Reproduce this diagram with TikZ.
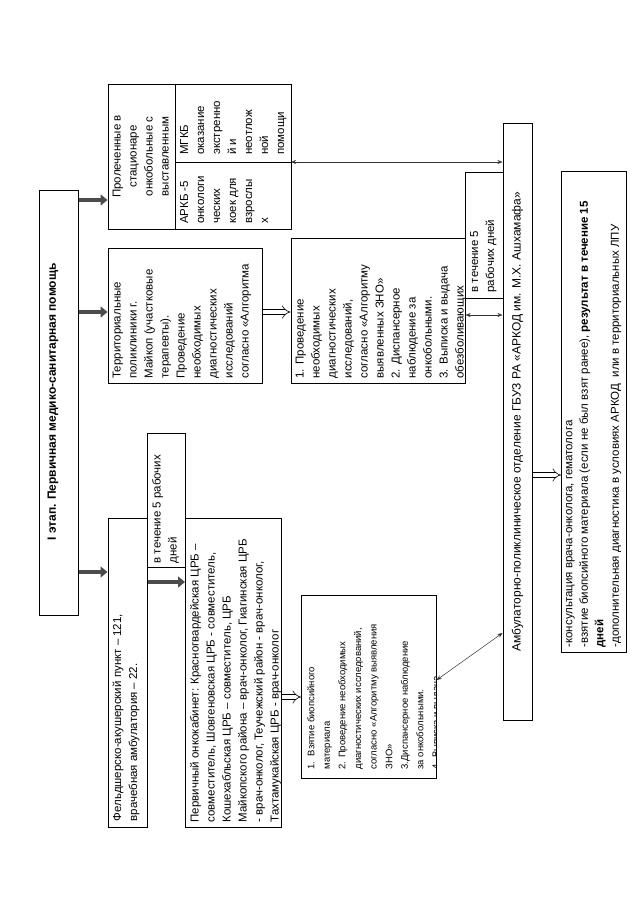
\documentclass[tikz,border=0pt]{standalone}
\usepackage{fontspec}
\setmainfont{Liberation Sans}
\usetikzlibrary{arrows.meta}
\newcommand\mkbox[5]{\node[box, minimum width=#4pt, minimum height=#5pt] (#1) at (#2,#3) {};}
\tikzset{
  box/.style={draw, inner sep=0pt, anchor=north west, line width=0.6pt},
  tx/.style={rotate=90, anchor=north west, inner sep=0pt, align=left, font=\fontsize{11.5}{16}\selectfont},
  txs/.style={rotate=90, anchor=north west, inner sep=0pt, align=left, font=\fontsize{9.5}{15.6}\selectfont},
  thk/.style={line width=4.5pt, draw=black!70, -{Triangle[length=7pt,width=11pt]}},
  hol/.style={double, double distance=4pt, line width=0.6pt, -{Implies[length=6pt,width=12pt]}},
  dbl/.style={line width=0.5pt, draw=black!80, {Stealth[length=5pt,width=4pt]}-{Stealth[length=5pt,width=4pt]}},
}
\begin{document}
\begin{tikzpicture}[x=1pt,y=-1pt]
\fill[white] (0,0) rectangle (640,905);
\useasboundingbox (0,0) rectangle (640,905);
% boxes
\mkbox{ttl}{39}{190}{39}{425}
\mkbox{b2}{107.5}{84}{183}{145}
\mkbox{b4}{107.5}{248}{154.5}{135}
\mkbox{b5}{290.5}{238}{174.5}{145}
\mkbox{b6}{465}{172}{37.5}{126}
\mkbox{amb}{502.5}{123}{29.5}{597}
\mkbox{kons}{561}{171}{65}{481}
\mkbox{feld}{107.5}{518}{39.5}{309}
\mkbox{b7}{147}{433}{38}{134}
\mkbox{perv}{185}{518}{96}{309}
\mkbox{vz}{301}{595}{135}{183}
% table lines in b2
\draw[line width=0.6pt] (175.6,84) -- (175.6,229);
\draw[line width=0.6pt] (175.6,162) -- (290.5,162);
% texts
\node[rotate=90, inner sep=0pt, font=\bfseries\fontsize{12}{14}\selectfont] (ttlt) at (53,402) {I этап. Первичная медико-санитарная помощь};
\begin{scope}\clip (107.5,84) rectangle (175.6,229);
\node[tx, align=center, anchor=north] (b2t) at (112.5,156.5) {Пролеченные в\\стационаре\\онкобольные с\\выставленным\\диагнозом};
\end{scope}
\node[tx] (b2bt) at (180,224) {АРКБ -5\\онкологи\\ческих\\коек для\\взрослы\\х};
\node[tx] (b2at) at (180,155) {МГКБ\\оказание\\экстренно\\й и\\неотлож\\ной\\помощи};
\begin{scope}\clip (b4.north west) rectangle (b4.south east);
\node[tx] (b4t) at ([xshift=5pt,yshift=5pt]b4.south west) {Территориальные\\поликлиники г.\\Майкоп (участковые\\терапевты).\\Проведение\\необходимых\\диагностических\\исследований\\согласно «Алгоритма};
\end{scope}
\begin{scope}\clip (b5.north west) rectangle (b5.south east);
\node[tx] (b5t) at ([xshift=5pt,yshift=5pt]b5.south west) {1. Проведение\\необходимых\\диагностических\\исследований,\\согласно «Алгоритму\\выявленных ЗНО»\\2. Диспансерное\\наблюдение за\\онкобольными.\\3. Выписка и выдача\\обезболивающих};
\end{scope}
\node[tx] (b6t) at ([xshift=5pt,yshift=6pt]b6.south west) {в течение 5\\рабочих дней};
\node[tx] (b7t) at ([xshift=5pt,yshift=4pt]b7.south west) {в течение 5 рабочих\\дней};
\node[rotate=90, inner sep=0pt, font=\fontsize{12}{14}\selectfont] (ambt) at (amb.center) {Амбулаторно-поликлиническое отделение ГБУЗ РА «АРКОД им. М.Х. Ашхамафа»};
\node[tx, font=\fontsize{11.5}{15.5}\selectfont] (konst) at ([xshift=5pt,yshift=5pt]kons.south west) {-консультация врача-онколога, гематолога\\-взятие биопсийного материала (если не был взят ранее), \textbf{результат в течение 15}\\\textbf{дней}\\-дополнительная диагностика в условиях АРКОД\ \ или в территориальных ЛПУ};
\node[tx] (feldt) at ([xshift=5pt,yshift=6pt]feld.south west) {Фельдшерско-акушерский пункт – 121,\\врачебная амбулатория – 22.};
\begin{scope}\clip (perv.north west) rectangle (perv.south east);
\node[tx] (pervt) at ([xshift=5pt,yshift=5pt]perv.south west) {Первичный онкокабинет: Красногвардейская ЦРБ –\\совместитель, Шовгеновская ЦРБ - совместитель,\\Кошехабльская ЦРБ – совместитель, ЦРБ\\Майкопского района – врач-онколог, Гиагинская ЦРБ\\- врач-онколог, Теучежский район - врач-онколог,\\Тахтамукайская ЦРБ - врач-онколог};
\end{scope}
\begin{scope}\clip (vz.north west) rectangle (vz.south east);
\node[txs] (vzt) at ([xshift=6pt,yshift=9pt]vz.south west) {1.\ \ Взятие биопсийного\\материала\\2. Проведение необходимых\\диагностических исследований,\\согласно «Алгоритму выявления\\ЗНО»\\3.Диспансерное наблюдение\\за онкобольными.\\4. Выписка и выдача};
\end{scope}
% connectors
\draw[thk] (ttl.east |- 0,200) -- (b2.west |- 0,200);
\draw[thk] (ttl.east |- 0,312) -- (b4.west |- 0,312);
\draw[thk] (ttl.east |- 0,572) -- (feld.west |- 0,572);
\draw[thk] (feld.east |- 0,582) -- (perv.west |- 0,582);
\draw[hol] (b4.east |- 0,312) -- (b5.west |- 0,312);
\draw[hol] (perv.east |- 0,697) -- (vz.west |- 0,697);
\draw[hol] (amb.east |- 0,475) -- (kons.west |- 0,475);
\draw[dbl] (b2.east |- 0,162) -- (amb.west |- 0,162);
\draw[dbl] (b5.east |- 0,315) -- (amb.west |- 0,315);
\draw[dbl] (vz.east |- 0,680) -- (amb.west |- 0,633);
\end{tikzpicture}
\end{document}
